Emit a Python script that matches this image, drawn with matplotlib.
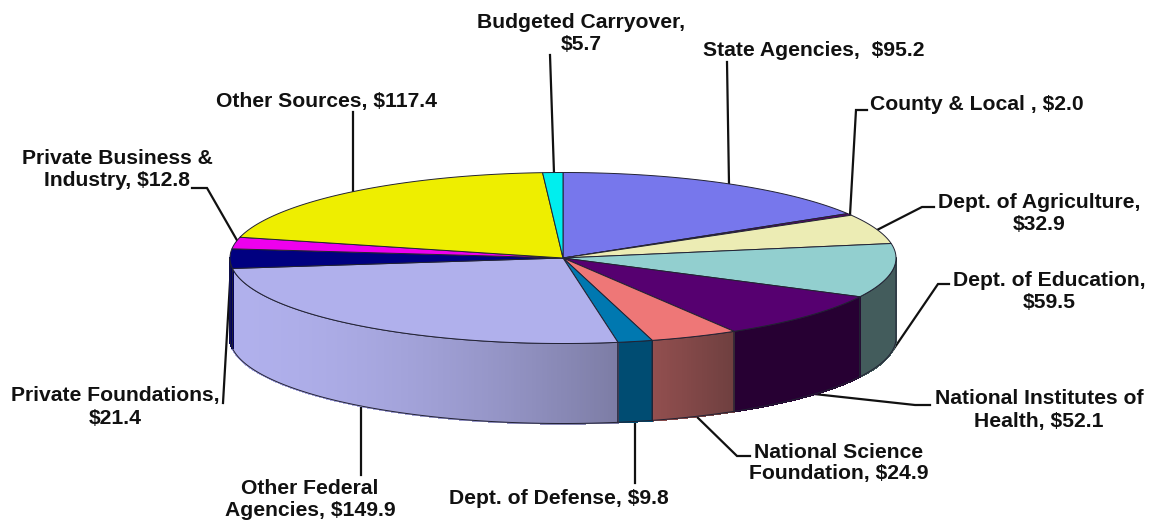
import numpy as np
import matplotlib
matplotlib.use('Agg')
import matplotlib.pyplot as plt

# funding by source
names = ['State Agencies', 'County & Local', 'Dept. of Agriculture', 'Dept. of Education',
         'National Institutes of Health', 'National Science Foundation', 'Dept. of Defense',
         'Other Federal Agencies', 'Private Foundations', 'Private Business & Industry',
         'Other Sources', 'Budgeted Carryover']
values = [95.2, 2.0, 32.9, 59.5, 52.1, 24.9, 9.8, 149.9, 21.4, 12.8, 117.4, 5.7]
top_colors = ['#7777EC', '#5A0070', '#ECECB4', '#92CFCF', '#560070', '#EE7777',
              '#0078B0', '#B0B0EC', '#000080', '#EE00EE', '#EEEE00', '#00EEEE']
# side wall colour at the left and right end of each slice
side_left = {2: '#5A6A6A', 3: '#435C5C', 4: '#270033', 5: '#924F4F', 6: '#004C72',
             7: '#B0B0EC', 8: '#000060'}
side_right = {2: '#5A6A6A', 3: '#435C5C', 4: '#270033', 5: '#6E3F3F', 6: '#004C72',
              7: '#7C7CA4', 8: '#000060'}

cx, cy = 563, 258
rx, ry = 333, 85.5
depth = 80

# text, x, y
labels = [
    ('State Agencies,  $95.2', 814, 50),
    ('County & Local , $2.0', 977, 104),
    ('Dept. of Agriculture,\n$32.9', 1039, 213),
    ('Dept. of Education,\n$59.5', 1049, 291),
    ('National Institutes of\nHealth, $52.1', 1039, 410),
    ('National Science\nFoundation, $24.9', 839, 463),
    ('Dept. of Defense, $9.8', 559, 498),
    ('Other Federal\nAgencies, $149.9', 310, 500),
    ('Private Foundations,\n$21.4', 115, 407),
    ('Private Business &\nIndustry, $12.8', 117, 170),
    ('Other Sources, $117.4', 327, 101),
    ('Budgeted Carryover,\n$5.7', 581, 33),
]
leaders = [
    [(727, 62), (729, 184)],
    [(867, 110), (856, 110), (850, 215)],
    [(934, 207), (922, 207), (877, 230)],
    [(949, 284), (938, 284), (893, 350)],
    [(930, 405), (915, 405), (805, 393)],
    [(750, 456), (737, 456), (695, 415)],
    [(635, 483), (635, 420)],
    [(361, 475), (361, 405)],
    [(223, 403), (231, 265)],
    [(192, 188), (207, 188), (238, 242)],
    [(353, 112), (353, 192)],
    [(550, 55), (554, 173)],
]


def edge(t):
    # t is degrees clockwise from 12 o'clock
    a = np.radians(t)
    return cx + rx * np.sin(a), cy - ry * np.cos(a)


def mix(c1, c2, f):
    a = np.array(matplotlib.colors.to_rgb(c1))
    b = np.array(matplotlib.colors.to_rgb(c2))
    return tuple(a + (b - a) * f)


plt.rcParams['font.family'] = ['Liberation Sans', 'DejaVu Sans']
fig = plt.figure(figsize=(11.51, 5.23), dpi=100)
ax = fig.add_axes([0, 0, 1, 1])
ax.set_xlim(0, 1151)
ax.set_ylim(523, 0)
ax.axis('off')

for pts in leaders:
    ax.plot([p[0] for p in pts], [p[1] for p in pts], color='#111111', lw=1.6, zorder=1,
            solid_joinstyle='miter')

bounds = np.concatenate([[0], np.cumsum(values)]) / np.sum(values) * 360

# side wall, only the part of the rim facing us
for i in range(len(values)):
    t0, t1 = max(bounds[i], 90), min(bounds[i + 1], 270)
    if t1 <= t0:
        continue
    ts = np.linspace(t0, t1, max(int((t1 - t0) * 3), 3))
    xs, ys = edge(ts)
    for j in range(len(ts) - 1):
        # colour goes by x, left end of the slice to the right end
        f = (0.5 * (xs[j] + xs[j + 1]) - xs[-1]) / (xs[0] - xs[-1])
        if i == 7:
            f = f ** 1.7
        c = mix(side_left[i], side_right[i], f)
        ax.fill([xs[j], xs[j + 1], xs[j + 1], xs[j]],
                [ys[j], ys[j + 1], ys[j + 1] + depth, ys[j] + depth],
                color=c, lw=1, antialiased=False, zorder=2)
    ax.fill(np.r_[xs, xs[::-1]], np.r_[ys, ys[::-1] + depth], facecolor='none',
            edgecolor='#222233', lw=0.7, zorder=3)

# top of the pie
for i in range(len(values)):
    ts = np.linspace(bounds[i], bounds[i + 1], max(int(bounds[i + 1] - bounds[i]) * 2, 4))
    xs, ys = edge(ts)
    ax.fill(np.r_[cx, xs], np.r_[cy, ys], facecolor=top_colors[i], edgecolor='#222233',
            lw=0.7, zorder=4)

for text, x, y in labels:
    ax.text(x, y, text, ha='center', va='center', fontsize=15.2, fontweight='bold',
            color='#111111', linespacing=1.2, zorder=5)

fig.savefig('out.png', dpi=100)
